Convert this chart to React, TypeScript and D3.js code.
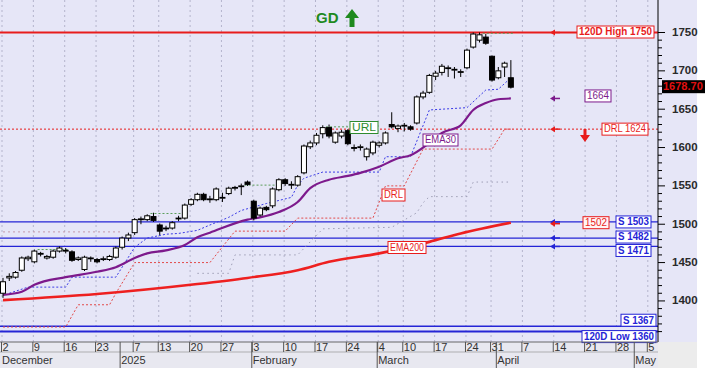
import React from "react";
import * as d3 from "d3";

// daily bars, Dec 2 .. Apr 2  [open, high, low, close]
const ohlc: [number, number, number, number][] = [
  [1410, 1430, 1404, 1425], [1430, 1436, 1426, 1432], [1431, 1439, 1429, 1437], [1440, 1458, 1438, 1456],
  [1455, 1459, 1452, 1457], [1451, 1467, 1449, 1465], [1462, 1464, 1458, 1461], [1456, 1460, 1454, 1458],
  [1457, 1467, 1455, 1465], [1465, 1471, 1463, 1469], [1466, 1469, 1462, 1466], [1464, 1466, 1451, 1453],
  [1454, 1458, 1452, 1456], [1441, 1459, 1439, 1457], [1455, 1458, 1451, 1456], [1454, 1456, 1449, 1451],
  [1455, 1458, 1452, 1455], [1454, 1460, 1452, 1458], [1457, 1471, 1455, 1469], [1470, 1484, 1467, 1482],
  [1482, 1489, 1478, 1486], [1489, 1508, 1486, 1506], [1506, 1510, 1500, 1507], [1506, 1513, 1504, 1511],
  [1510, 1515, 1503, 1505], [1499, 1501, 1486, 1491], [1495, 1498, 1491, 1495], [1495, 1504, 1493, 1502],
  [1507, 1511, 1504, 1508], [1508, 1527, 1506, 1525], [1526, 1534, 1524, 1532], [1532, 1541, 1530, 1539],
  [1539, 1541, 1530, 1532], [1532, 1537, 1528, 1533], [1532, 1548, 1530, 1546], [1535, 1541, 1529, 1535],
  [1540, 1549, 1538, 1547], [1547, 1550, 1544, 1548], [1550, 1553, 1538, 1550], [1555, 1557, 1550, 1552],
  [1530, 1532, 1505, 1508], [1512, 1523, 1510, 1521], [1522, 1524, 1517, 1519], [1524, 1548, 1521, 1546],
  [1545, 1560, 1543, 1558], [1558, 1560, 1550, 1553], [1551, 1556, 1546, 1552], [1551, 1564, 1549, 1562],
  [1567, 1604, 1565, 1602], [1601, 1609, 1598, 1606], [1606, 1619, 1603, 1616], [1618, 1629, 1612, 1626],
  [1626, 1630, 1612, 1615], [1607, 1621, 1605, 1619], [1615, 1623, 1612, 1620], [1622, 1624, 1603, 1605],
  [1600, 1604, 1595, 1599], [1600, 1604, 1596, 1601], [1588, 1600, 1583, 1598], [1593, 1609, 1590, 1607],
  [1603, 1608, 1600, 1606], [1606, 1621, 1604, 1619], [1630, 1646, 1625, 1627], [1625, 1630, 1620, 1628],
  [1629, 1632, 1621, 1629], [1627, 1629, 1622, 1624], [1632, 1668, 1630, 1666], [1666, 1674, 1663, 1671],
  [1672, 1696, 1670, 1694], [1693, 1700, 1688, 1697], [1698, 1709, 1694, 1706], [1704, 1707, 1692, 1704],
  [1702, 1705, 1690, 1702], [1699, 1702, 1692, 1699], [1704, 1729, 1702, 1727], [1731, 1750, 1729, 1748],
  [1740, 1750, 1737, 1747], [1744, 1748, 1734, 1736], [1719, 1720, 1686, 1688], [1691, 1705, 1689, 1700],
  [1705, 1712, 1692, 1710], [1691, 1714, 1677, 1678.7],
];
const lastPrice = "1678.70";

// [bar index, value]
const ema30: [number, number][] = [
  [0, 1408], [3, 1412], [5, 1421], [10, 1431], [15, 1438], [18, 1444], [21, 1456], [23, 1462],
  [26, 1466], [29, 1473], [31, 1483], [33, 1489], [39, 1506], [41, 1509], [44, 1516], [47, 1529],
  [49, 1547], [52, 1558], [55, 1563], [57, 1567], [60, 1575], [63, 1586], [65, 1590], [68, 1606],
  [70, 1619], [73, 1629], [75, 1649], [77, 1658], [79, 1663], [81, 1664],
];
const ema200: [number, number][] = [
  [0, 1401], [15, 1409], [31, 1422], [39, 1430], [47, 1440], [52, 1451], [60, 1462], [68, 1477],
  [73, 1488], [81, 1502],
];
const trailStop: [number, number][] = [
  [1, 1410], [4, 1418], [10, 1418], [11, 1431], [18, 1431], [21, 1470], [23, 1482], [26, 1487],
  [28, 1488], [31, 1492], [33, 1499], [36, 1509], [38, 1518], [42, 1527], [46, 1535], [47, 1551],
  [48, 1560], [51, 1568], [60, 1568], [61, 1588], [65, 1588], [68, 1649], [74, 1652], [77, 1675],
  [79, 1676], [81, 1691],
];
const drl: [number, number][] = [
  [0, 1366], [10, 1366], [12, 1395], [17, 1395], [18, 1410], [21, 1450], [33, 1450], [37, 1491],
  [45, 1491], [47, 1508], [59, 1508], [61, 1550], [64, 1550], [67, 1598], [78, 1598], [80, 1624],
  [81, 1624],
];
const lowerStop: [number, number][] = [
  [31, 1436], [36, 1436], [37, 1460], [47, 1460], [51, 1494], [62, 1496], [66, 1515], [67, 1528],
  [68, 1536], [74, 1536], [75, 1555], [81, 1555],
];
const oldBand: [number, number][] = [[0, 1490], [19, 1490]];
// [from bar, to bar, value]
const urlSegments: [number, number, number][] = [
  [6, 10, 1467], [24, 28, 1514], [39, 44, 1551], [52, 55, 1627], [77, 81, 1749],
];

const high120 = 1750;
const low120 = 1360;
const drlLevel = 1624;
const emaLast30 = 1664;
const emaLast200 = 1502;
const supports = [1503, 1482, 1471, 1367];

const dateTicks: [number, string][] = [
  [0, "2"], [5, "9"], [10, "16"], [15, "23"], [21, "7"], [25, "13"], [30, "20"], [35, "27"],
  [40, "3"], [45, "10"], [50, "17"], [55, "24"], [60, "4"], [64, "10"], [69, "17"], [74, "24"],
  [78, "31"], [83, "7"], [88, "14"], [93, "21"], [98, "28"], [103, "5"],
];
const monthTicks: [number, string][] = [
  [0, "December"], [19, "2025"], [40, "February"], [60, "March"], [79, "April"], [101, "May"],
];
const priceLabels = [1400, 1450, 1500, 1550, 1600, 1650, 1700, 1750];

const W = 705;
const H = 374;
const plotRight = 658;
const plotBottom = 342;
const FONT = "'Liberation Sans', Arial, sans-serif";

const RED = "#e81c1c";
const BLUE = "#2424d6";
const PURPLE = "#7d1a8c";
const GREEN = "#2e8b2e";

function Tag({ x, yc, w, text, color, bold = false, fill = "#ffffff" }: any) {
  const h = 12;
  return (
    <g>
      <rect x={x} y={yc - h / 2} width={w} height={h} fill={fill} stroke={color} strokeWidth={1} />
      <text x={x + w / 2} y={yc + 0.5} fill={color} fontSize={bold ? 10.5 : 10} fontWeight={bold ? "bold" : "normal"}
        textAnchor="middle" dominantBaseline="middle" fontFamily={FONT}
        textLength={w - 4} lengthAdjust="spacingAndGlyphs">{text}</text>
    </g>
  );
}

function LeftArrow({ x, y, color }: any) {
  return (
    <g>
      <path d={`M${x},${y} L${x + 5},${y - 3} L${x + 5},${y + 3} Z`} fill={color} />
      <line x1={x + 4} x2={x + 10} y1={y} y2={y} stroke={color} strokeWidth={1.5} />
    </g>
  );
}

export default function App() {
  const x = d3.scaleLinear().domain([0, 103]).range([3, 648.8]);
  const y = d3.scaleLinear().domain([1360, 1750]).range([331.6, 32.5]);

  const stepLine = d3.line<[number, number]>().x((d) => x(d[0])).y((d) => y(d[1]));
  const smoothLine = d3
    .line<[number, number]>()
    .x((d) => x(d[0]))
    .y((d) => y(d[1]))
    .curve(d3.curveMonotoneX);

  const bw = 5;
  const minor = d3.range(1360, 1760, 10);
  const ax = 553;

  return (
    <>
      <style>{"body{margin:0;background:#fff}"}</style>
      <svg width={W} height={H} style={{ display: "block" }} fontFamily={FONT}>
        <defs>
          <clipPath id="plot">
            <rect x={0} y={0} width={plotRight} height={plotBottom} />
          </clipPath>
        </defs>
        <rect x={0} y={0} width={697} height={plotBottom} fill="#e6e6f7" />
        <rect x={0} y={plotBottom} width={plotRight} height={26} fill="#e8e8f0" />
        <rect x={plotRight} y={plotBottom} width={39} height={26} fill="#ececec" />

        {/* vertical dotted grid */}
        {dateTicks.map(([i], k) => (
          <line key={k} x1={x(i) - 1} x2={x(i) - 1} y1={0} y2={plotBottom} stroke="#b4b4cc" strokeDasharray="2,3" strokeWidth={1} />
        ))}

        <g clipPath="url(#plot)">
          {/* horizontal levels */}
          <line x1={0} x2={plotRight} y1={y(high120)} y2={y(high120)} stroke={RED} strokeWidth={2} />
          <line x1={0} x2={plotRight} y1={y(drlLevel)} y2={y(drlLevel)} stroke={RED} strokeWidth={1} strokeDasharray="2,2" />
          {supports.map((v, k) => (
            <line key={k} x1={0} x2={plotRight} y1={y(v)} y2={y(v)} stroke={BLUE} strokeWidth={1.3} />
          ))}
          <line x1={0} x2={plotRight} y1={y(low120)} y2={y(low120)} stroke={BLUE} strokeWidth={2} />

          {/* dotted study lines */}
          <path d={stepLine(oldBand) || ""} fill="none" stroke="#c49aaa" strokeWidth={1} strokeDasharray="2,3" />
          <path d={stepLine(lowerStop) || ""} fill="none" stroke="#9d9db5" strokeWidth={1} strokeDasharray="1.5,3.5" />
          <path d={stepLine(drl) || ""} fill="none" stroke="#e24a4a" strokeWidth={1} strokeDasharray="2,2" />
          <path d={stepLine(trailStop) || ""} fill="none" stroke="#3b3be6" strokeWidth={1} strokeDasharray="2,2" />
          {urlSegments.map(([a, b, v], k) => (
            <line key={k} x1={x(a) - 3} x2={x(b) + 3} y1={y(v)} y2={y(v)} stroke="#5a9e5a" strokeWidth={1} strokeDasharray="2,2" />
          ))}

          {/* moving averages */}
          <path d={smoothLine(ema200) || ""} fill="none" stroke="#ee2020" strokeWidth={2.6} />
          <path d={smoothLine(ema30) || ""} fill="none" stroke={PURPLE} strokeWidth={2.2} />

          {/* candles */}
          {ohlc.map(([o, h, l, c], i) => {
            const cx = x(i);
            const top = y(Math.max(o, c));
            const bot = y(Math.min(o, c));
            const up = c >= o;
            return (
              <g key={i}>
                <line x1={cx} x2={cx} y1={y(h)} y2={y(l)} stroke="#000" strokeWidth={1} />
                <rect x={cx - bw / 2} y={top} width={bw} height={Math.max(bot - top, 0.8)}
                  fill={up ? "#ffffff" : "#000000"} stroke="#000" strokeWidth={1} />
              </g>
            );
          })}
        </g>

        {/* in-plot tags */}
        <Tag x={350} yc={127.5} w={28} text="URL" color={GREEN} />
        <Tag x={423} yc={140} w={35} text="EMA30" color={PURPLE} />
        <Tag x={382} yc={195} w={23} text="DRL" color={RED} />
        <Tag x={388} yc={247.5} w={38} text="EMA200" color={RED} />

        {/* GD marker */}
        <text x={316} y={23} fill="#1f8a1f" fontSize={15} fontWeight="bold">GD</text>
        <path d="M345,18 L352,9 L359,18 L354.5,18 L354.5,27 L349.5,27 L349.5,18 Z" fill="#1f8a1f" />

        {/* right side arrows */}
        <LeftArrow x={ax - 3} y={y(high120)} color={RED} />
        <LeftArrow x={ax - 3} y={y(emaLast30)} color={PURPLE} />
        <LeftArrow x={ax - 3} y={y(drlLevel)} color={RED} />
        <LeftArrow x={ax - 3} y={y(supports[0])} color={BLUE} />
        <LeftArrow x={ax - 3} y={y(emaLast200) + 1} color={RED} />
        <LeftArrow x={ax - 3} y={y(supports[1])} color={BLUE} />
        <LeftArrow x={ax - 3} y={y(supports[2])} color={BLUE} />
        <path d="M583.5,129 L586.5,129 L586.5,135 L590,135 L585,142 L580,135 L583.5,135 Z" fill={RED} />

        {/* right side tags */}
        <Tag x={577} yc={y(high120) - 0.5} w={77} text={`120D High ${high120}`} color={RED} bold />
        <Tag x={585} yc={y(emaLast30) - 2.5} w={26} text={`${emaLast30}`} color={PURPLE} />
        <Tag x={602} yc={y(drlLevel)} w={46} text={`DRL ${drlLevel}`} color={RED} />
        <Tag x={583} yc={y(emaLast200)} w={26} text={`${emaLast200}`} color={RED} fill="#fff4f4" />
        <Tag x={616} yc={y(supports[0])} w={35} text={`S ${supports[0]}`} color={BLUE} bold />
        <Tag x={616} yc={y(supports[1]) - 1} w={35} text={`S ${supports[1]}`} color={BLUE} bold />
        <Tag x={616} yc={y(supports[2]) + 4} w={35} text={`S ${supports[2]}`} color={BLUE} bold />
        <Tag x={621} yc={y(supports[3]) - 6} w={35} text={`S ${supports[3]}`} color={BLUE} bold />
        <Tag x={582} yc={y(low120) + 5} w={74} text={`120D Low ${low120}`} color={BLUE} bold />

        {/* y axis */}
        <line x1={plotRight} x2={plotRight} y1={0} y2={plotBottom} stroke="#000" strokeWidth={1} />
        {minor.map((v) => (
          <line key={v} x1={plotRight} x2={plotRight + (v % 50 === 0 ? 7 : 4)} y1={y(v)} y2={y(v)} stroke="#000" strokeWidth={1} />
        ))}
        {priceLabels.map((v) => (
          <text key={v} x={672} y={y(v) + 0.5} fontSize={11.5} fontWeight="bold" fill="#2a2a2a" dominantBaseline="middle">{v}</text>
        ))}
        <rect x={662} y={y(1678.7) - 7} width={45} height={13} fill="#000" />
        <text x={663} y={y(1678.7)} fontSize={11} fontWeight="bold" fill="#e01010" dominantBaseline="middle">{lastPrice}</text>

        {/* x axis */}
        <line x1={0} x2={plotRight} y1={plotBottom} y2={plotBottom} stroke="#666" strokeWidth={1} />
        <line x1={0} x2={plotRight} y1={352} y2={352} stroke="#888" strokeWidth={0.6} />
        {dateTicks.map(([i, lab], k) => (
          <g key={k}>
            <line x1={x(i) - 1.5} x2={x(i) - 1.5} y1={plotBottom} y2={352} stroke="#555" strokeWidth={1} />
            <text x={x(i) - 0.5} y={350.5} fontSize={11} fill="#333">{lab}</text>
          </g>
        ))}
        {monthTicks.map(([i, lab], k) => (
          <g key={k}>
            {i > 0 && <line x1={x(i) - 2} x2={x(i) - 2} y1={plotBottom} y2={368} stroke="#555" strokeWidth={1} />}
            <text x={x(i) - 1} y={364} fontSize={11} fill="#333">{lab}</text>
          </g>
        ))}
      </svg>
    </>
  );
}
